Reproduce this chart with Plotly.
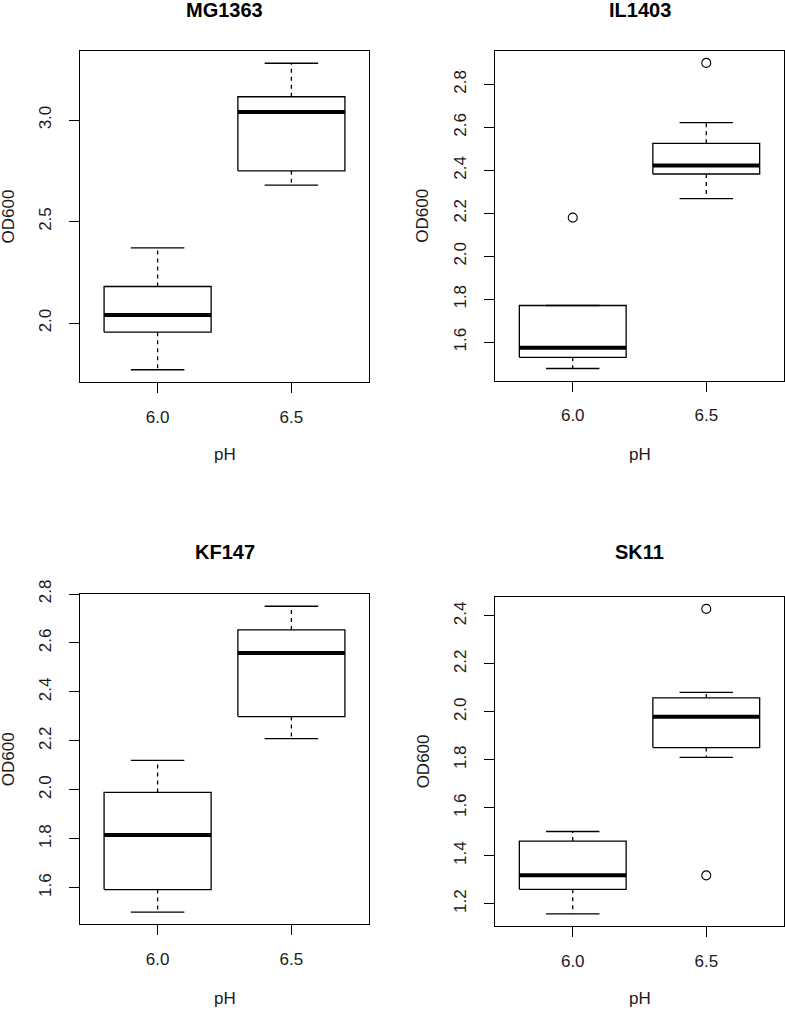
import plotly.graph_objects as go

# ---- data ----
strains = ["MG1363", "IL1403", "KF147", "SK11"]
ph_labels = ["6.0", "6.5"]

# per strain: [pH 6.0, pH 6.5]
whisker_low = [[1.77, 2.68], [1.478, 2.268], [1.50, 2.209], [1.158, 1.81]]
q1 = [[1.955, 2.75], [1.53, 2.383], [1.592, 2.299], [1.26, 1.851]]
median = [[2.04, 3.04], [1.574, 2.423], [1.815, 2.559], [1.319, 1.979]]
q3 = [[2.18, 3.115], [1.771, 2.526], [1.989, 2.653], [1.461, 2.058]]
whisker_high = [[2.37, 3.28], [1.771, 2.622], [2.12, 2.75], [1.501, 2.081]]
outliers = [[[], []], [[2.18], [2.90]], [[], []], [[], [2.429, 1.318]]]
y_dtick = [0.5, 0.2, 0.2, 0.2]

W, H = 785, 1010
# panel frames in pixels (left, right, top, bottom)
frames = [(80, 369, 51, 382), (495.3, 783.7, 50.7, 380.7),
          (80, 369, 594, 924.3), (495.3, 783.7, 596.7, 926)]

FONT = "Liberation Sans, Arial, sans-serif"
LW = 1.3
HALF = 0.4  # half box width in category units
TXT = "#1a1a1a"

fig = go.Figure()
annotations = []
layout_axes = {}

for i, name in enumerate(strains):
    xa = "x" if i == 0 else f"x{i+1}"
    ya = "y" if i == 0 else f"y{i+1}"
    for j, lab in enumerate(ph_labels):
        c = j + 1
        lo, a, m, b, hi = whisker_low[i][j], q1[i][j], median[i][j], q3[i][j], whisker_high[i][j]
        # box body
        fig.add_trace(go.Scatter(
            x=[c - HALF, c + HALF, c + HALF, c - HALF, c - HALF],
            y=[a, a, b, b, a], mode="lines",
            line=dict(color="black", width=LW), xaxis=xa, yaxis=ya,
            showlegend=False, hoverinfo="skip"))
        # whiskers (dashed)
        fig.add_trace(go.Scatter(
            x=[c, c, None, c, c], y=[b, hi, None, a, lo], mode="lines",
            line=dict(color="black", width=LW, dash="4px,4px"),
            xaxis=xa, yaxis=ya, showlegend=False, hoverinfo="skip"))
        # staples
        fig.add_trace(go.Scatter(
            x=[c - HALF / 2, c + HALF / 2, None, c - HALF / 2, c + HALF / 2],
            y=[hi, hi, None, lo, lo], mode="lines",
            line=dict(color="black", width=LW),
            xaxis=xa, yaxis=ya, showlegend=False, hoverinfo="skip"))
        # median
        fig.add_trace(go.Scatter(
            x=[c - HALF, c + HALF], y=[m, m], mode="lines",
            line=dict(color="black", width=4),
            xaxis=xa, yaxis=ya, showlegend=False, hoverinfo="skip"))
        # outliers
        if outliers[i][j]:
            fig.add_trace(go.Scatter(
                x=[c] * len(outliers[i][j]), y=outliers[i][j], mode="markers",
                marker=dict(symbol="circle-open", size=9, color="black",
                            line=dict(width=1.1, color="black")),
                xaxis=xa, yaxis=ya, showlegend=False, hoverinfo="skip"))

    allv = whisker_low[i] + whisker_high[i] + sum(outliers[i], [])
    vmin, vmax = min(allv), max(allv)
    pad = 0.04 * (vmax - vmin)

    l, r, t, bt = frames[i]
    xdom = [l / W, min(r / W, 1.0)]
    ydom = [1 - bt / H, 1 - t / H]
    axis_common = dict(showline=True, mirror=True, linecolor="black", linewidth=LW,
                       ticks="outside", ticklen=10, tickwidth=LW, tickcolor="black",
                       showgrid=False, zeroline=False, automargin=False,
                       tickfont=dict(family=FONT, size=17, color=TXT))
    layout_axes["xaxis" if i == 0 else f"xaxis{i+1}"] = dict(
        axis_common, domain=xdom, anchor=ya, range=[0.42, 2.58],
        tickvals=[1, 2], ticktext=ph_labels, ticklabelstandoff=9)
    layout_axes["yaxis" if i == 0 else f"yaxis{i+1}"] = dict(
        axis_common, domain=ydom, anchor=xa, range=[vmin - pad, vmax + pad],
        dtick=y_dtick[i], tick0=0, tickformat=".1f", tickangle=-90,
        ticklabelstandoff=11)

    cx = (l + r) / 2 / W
    title_y = 10 if i < 2 else 552
    annotations.append(dict(text=f"<b>{name}</b>", x=cx, y=1 - title_y / H,
                            xref="paper", yref="paper", showarrow=False,
                            xanchor="center", yanchor="middle",
                            font=dict(family=FONT, size=20, color="black")))
    xlab_y = 455 if i < 2 else 998
    annotations.append(dict(text="pH", x=cx, y=1 - xlab_y / H,
                            xref="paper", yref="paper", showarrow=False,
                            xanchor="center", yanchor="middle",
                            font=dict(family=FONT, size=17, color=TXT)))
    ylab_x = 8 if i % 2 == 0 else 423
    annotations.append(dict(text="OD600", x=ylab_x / W, y=1 - (t + bt) / 2 / H,
                            xref="paper", yref="paper", showarrow=False,
                            xanchor="center", yanchor="middle", textangle=-90,
                            font=dict(family=FONT, size=17, color=TXT)))

fig.update_layout(
    width=W, height=H, margin=dict(l=0, r=0, t=0, b=0, autoexpand=False),
    paper_bgcolor="white", plot_bgcolor="white",
    annotations=annotations, **layout_axes)

fig.write_html("out.html", config={"displayModeBar": False},
               post_script="document.body.style.margin='0';document.body.style.overflow='hidden';")
